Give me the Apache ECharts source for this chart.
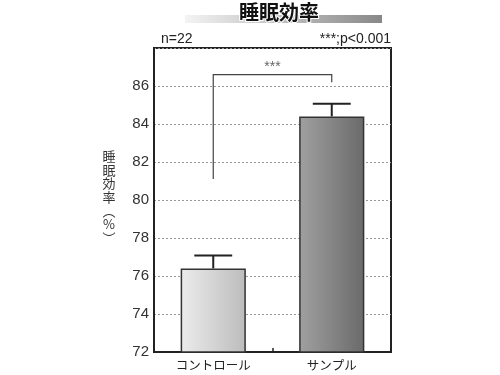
<!DOCTYPE html>
<html>
<head>
<meta charset="utf-8">
<script src="https://cdn.jsdelivr.net/npm/echarts@6/dist/echarts.min.js"></script>
<style>html,body{margin:0;padding:0;background:#fff;}#c{width:500px;height:375px;}</style>
</head>
<body>
<div id="c"></div>
<script>
var categories = ['コントロール', 'サンプル'];
var means = [76.4, 84.4];
var errorTops = [77.08, 85.06];
var yTicks = [72, 74, 76, 78, 80, 82, 84, 86, 88];
var bracket = [0, 1, 81.1, 86.6, 86.2]; // from cat, to cat, left end, top, right end
var titleText = '睡眠効率';
var nText = 'n=22';
var pText = '***;p<0.001';
var sigText = '***';
var yName = '睡\n眠\n効\n率\n︵\n%\n︶';

var FONT = '"Liberation Sans", "Noto Sans CJK JP", sans-serif';
var JP = '"Noto Sans CJK JP", sans-serif';

var chart = echarts.init(document.getElementById('c'));
var barColors = [
  new echarts.graphic.LinearGradient(0, 0, 1, 0, [{offset: 0, color: '#ececec'}, {offset: 1, color: '#bcbcbc'}]),
  new echarts.graphic.LinearGradient(0, 0, 1, 0, [{offset: 0, color: '#a0a0a0'}, {offset: 1, color: '#6a6a6a'}])
];

chart.setOption({
  animation: false,
  grid: {left: 154, right: 109, top: 48, bottom: 23, show: true, borderColor: '#222', borderWidth: 2, backgroundColor: 'transparent'},
  xAxis: {
    type: 'category',
    data: categories,
    axisLine: {lineStyle: {color: '#222', width: 2}},
    axisTick: {show: true, inside: true, length: 4, lineStyle: {color: '#222', width: 1.5}},
    axisLabel: {color: '#222', fontFamily: JP, fontSize: 12.5, margin: 7}
  },
  yAxis: {
    type: 'value',
    min: yTicks[0],
    max: yTicks[yTicks.length - 1],
    interval: 2,
    axisLine: {show: true, lineStyle: {color: '#222', width: 2}},
    axisTick: {show: false},
    axisLabel: {color: '#333', fontFamily: FONT, fontSize: 15, margin: 5,
      formatter: function (v) { return v === yTicks[yTicks.length - 1] ? '' : String(v); }},
    splitLine: {show: true, lineStyle: {color: '#999', type: [2, 2], width: 1}}
  },
  graphic: [
    {type: 'rect', shape: {x: 185, y: 15, width: 197, height: 8},
     style: {fill: new echarts.graphic.LinearGradient(0, 0, 1, 0, [{offset: 0, color: '#f4f4f4'}, {offset: 1, color: '#888'}])}, z: 1},
    {type: 'text', x: 279, y: 12, z: 2,
     style: {text: titleText, font: 'bold 20px ' + JP, fill: '#111', stroke: '#fff', lineWidth: 2, textAlign: 'center', textVerticalAlign: 'middle'}},
    {type: 'text', x: 161, y: 39, style: {text: nText, font: '14px ' + FONT, fill: '#222', textAlign: 'left', textVerticalAlign: 'middle'}},
    {type: 'text', x: 391, y: 39, style: {text: pText, font: '14px ' + FONT, fill: '#222', textAlign: 'right', textVerticalAlign: 'middle'}},
    {type: 'text', x: 109, y: 197, style: {text: yName, font: '13px ' + JP, lineHeight: 13.6, fill: '#333', textAlign: 'center', textVerticalAlign: 'middle'}}
  ],
  series: [
    {
      type: 'bar',
      barWidth: '55%',
      data: means.map(function (v, i) {
        return {value: v, itemStyle: {color: barColors[i], borderColor: '#333', borderWidth: 1.5}};
      }),
      z: 3
    },
    {
      type: 'custom',
      z: 4,
      data: means.map(function (v, i) { return [i, v, errorTops[i]]; }),
      renderItem: function (params, api) {
        var base = api.coord([api.value(0), api.value(1)]);
        var top = api.coord([api.value(0), api.value(2)]);
        var hw = api.size([1, 0])[0] * 0.16;
        var st = {stroke: '#222', lineWidth: 2};
        return {type: 'group', children: [
          {type: 'line', shape: {x1: base[0], y1: base[1], x2: top[0], y2: top[1]}, style: st},
          {type: 'line', shape: {x1: top[0] - hw, y1: top[1], x2: top[0] + hw, y2: top[1]}, style: st}
        ]};
      }
    },
    {
      type: 'custom',
      z: 5,
      data: [bracket],
      renderItem: function (params, api) {
        var a = api.coord([api.value(0), api.value(2)]);
        var t0 = api.coord([api.value(0), api.value(3)]);
        var t1 = api.coord([api.value(1), api.value(3)]);
        var b = api.coord([api.value(1), api.value(4)]);
        return {type: 'group', children: [
          {type: 'polyline', shape: {points: [a, t0, t1, b]}, style: {stroke: '#444', lineWidth: 1.2, fill: null}},
          {type: 'text', x: (t0[0] + t1[0]) / 2, y: t0[1] - 7,
           style: {text: sigText, font: '14px ' + FONT, fill: '#666', textAlign: 'center', textVerticalAlign: 'middle'}}
        ]};
      }
    }
  ]
});
</script>
</body>
</html>
